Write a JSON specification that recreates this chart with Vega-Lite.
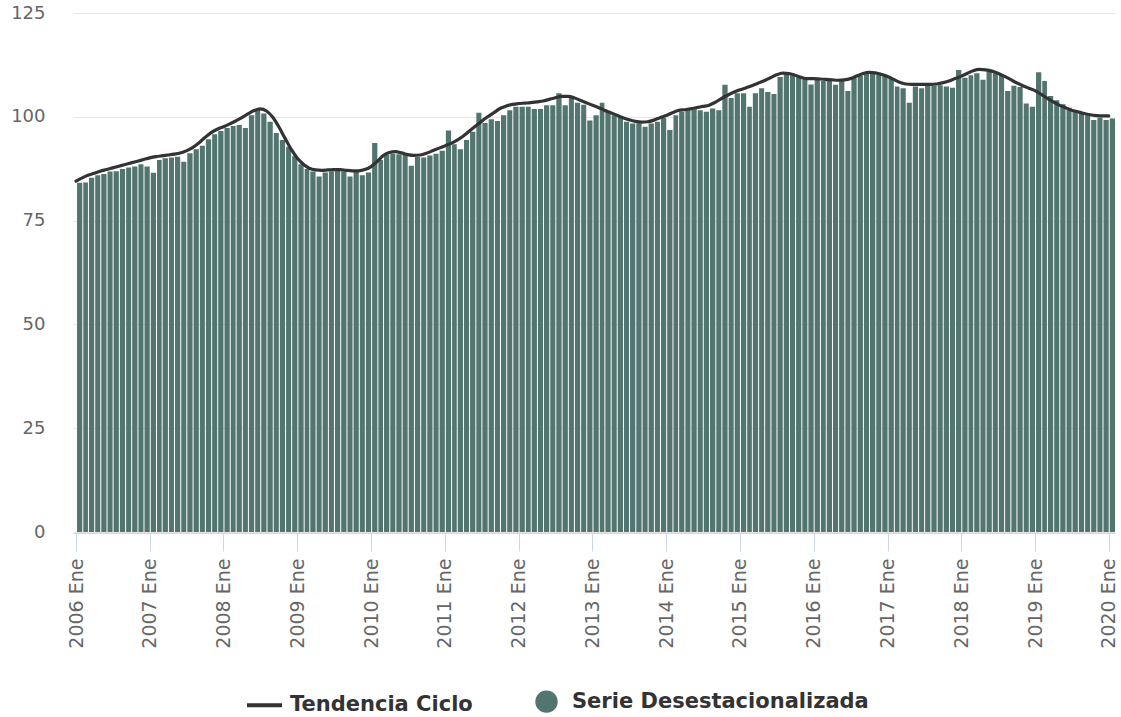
{
  "$schema": "https://vega.github.io/schema/vega-lite/v6.json",
  "width": 1042,
  "height": 519,
  "autosize": {"type": "none"},
  "padding": {"left": 73, "top": 13, "right": 6, "bottom": 185},
  "background": "white",
  "config": {"view": {"stroke": null}, "font": "DejaVu Sans"},
  "data": {"values": [
    {"fecha":"2006-01-15","serie":84.1,"tendencia":84.5},{"fecha":"2006-02-15","serie":84.2,"tendencia":85.3},{"fecha":"2006-03-15","serie":85.3,"tendencia":85.9},{"fecha":"2006-04-15","serie":85.9,"tendencia":86.4},{"fecha":"2006-05-15","serie":86.2,"tendencia":86.9},{"fecha":"2006-06-15","serie":86.8,"tendencia":87.3},{"fecha":"2006-07-15","serie":86.9,"tendencia":87.7},{"fecha":"2006-08-15","serie":87.4,"tendencia":88.1},{"fecha":"2006-09-15","serie":87.8,"tendencia":88.5},{"fecha":"2006-10-15","serie":88.0,"tendencia":88.9},{"fecha":"2006-11-15","serie":88.6,"tendencia":89.3},{"fecha":"2006-12-15","serie":88.0,"tendencia":89.7},
    {"fecha":"2007-01-15","serie":86.5,"tendencia":90.1},{"fecha":"2007-02-15","serie":89.6,"tendencia":90.4},{"fecha":"2007-03-15","serie":90.0,"tendencia":90.6},{"fecha":"2007-04-15","serie":90.2,"tendencia":90.8},{"fecha":"2007-05-15","serie":90.4,"tendencia":91.0},{"fecha":"2007-06-15","serie":89.2,"tendencia":91.3},{"fecha":"2007-07-15","serie":91.2,"tendencia":91.8},{"fecha":"2007-08-15","serie":92.2,"tendencia":92.6},{"fecha":"2007-09-15","serie":93.0,"tendencia":93.7},{"fecha":"2007-10-15","serie":94.6,"tendencia":95.0},{"fecha":"2007-11-15","serie":95.8,"tendencia":96.2},{"fecha":"2007-12-15","serie":96.6,"tendencia":97.0},
    {"fecha":"2008-01-15","serie":97.3,"tendencia":97.6},{"fecha":"2008-02-15","serie":97.8,"tendencia":98.3},{"fecha":"2008-03-15","serie":98.0,"tendencia":99.0},{"fecha":"2008-04-15","serie":97.3,"tendencia":99.8},{"fecha":"2008-05-15","serie":100.4,"tendencia":100.7},{"fecha":"2008-06-15","serie":101.8,"tendencia":101.5},{"fecha":"2008-07-15","serie":100.8,"tendencia":101.9},{"fecha":"2008-08-15","serie":98.8,"tendencia":101.4},{"fecha":"2008-09-15","serie":96.1,"tendencia":99.9},{"fecha":"2008-10-15","serie":94.4,"tendencia":97.6},{"fecha":"2008-11-15","serie":92.8,"tendencia":94.8},{"fecha":"2008-12-15","serie":90.5,"tendencia":92.2},
    {"fecha":"2009-01-15","serie":88.6,"tendencia":90.0},{"fecha":"2009-02-15","serie":87.4,"tendencia":88.5},{"fecha":"2009-03-15","serie":86.8,"tendencia":87.6},{"fecha":"2009-04-15","serie":85.6,"tendencia":87.2},{"fecha":"2009-05-15","serie":86.6,"tendencia":87.1},{"fecha":"2009-06-15","serie":86.9,"tendencia":87.2},{"fecha":"2009-07-15","serie":87.0,"tendencia":87.3},{"fecha":"2009-08-15","serie":86.9,"tendencia":87.3},{"fecha":"2009-09-15","serie":85.6,"tendencia":87.1},{"fecha":"2009-10-15","serie":86.7,"tendencia":87.0},{"fecha":"2009-11-15","serie":85.9,"tendencia":87.0},{"fecha":"2009-12-15","serie":86.6,"tendencia":87.3},
    {"fecha":"2010-01-15","serie":93.7,"tendencia":88.0},{"fecha":"2010-02-15","serie":89.6,"tendencia":89.3},{"fecha":"2010-03-15","serie":90.9,"tendencia":90.6},{"fecha":"2010-04-15","serie":91.1,"tendencia":91.4},{"fecha":"2010-05-15","serie":91.0,"tendencia":91.6},{"fecha":"2010-06-15","serie":90.8,"tendencia":91.3},{"fecha":"2010-07-15","serie":88.2,"tendencia":90.9},{"fecha":"2010-08-15","serie":90.3,"tendencia":90.7},{"fecha":"2010-09-15","serie":90.2,"tendencia":90.8},{"fecha":"2010-10-15","serie":90.7,"tendencia":91.2},{"fecha":"2010-11-15","serie":91.1,"tendencia":91.8},{"fecha":"2010-12-15","serie":91.8,"tendencia":92.4},
    {"fecha":"2011-01-15","serie":96.7,"tendencia":93.0},{"fecha":"2011-02-15","serie":93.4,"tendencia":93.6},{"fecha":"2011-03-15","serie":92.2,"tendencia":94.3},{"fecha":"2011-04-15","serie":94.4,"tendencia":95.3},{"fecha":"2011-05-15","serie":96.4,"tendencia":96.5},{"fecha":"2011-06-15","serie":101.0,"tendencia":97.7},{"fecha":"2011-07-15","serie":98.5,"tendencia":98.9},{"fecha":"2011-08-15","serie":99.4,"tendencia":100.0},{"fecha":"2011-09-15","serie":99.0,"tendencia":101.0},{"fecha":"2011-10-15","serie":100.4,"tendencia":102.0},{"fecha":"2011-11-15","serie":101.6,"tendencia":102.6},{"fecha":"2011-12-15","serie":102.4,"tendencia":103.0},
    {"fecha":"2012-01-15","serie":102.4,"tendencia":103.2},{"fecha":"2012-02-15","serie":102.4,"tendencia":103.3},{"fecha":"2012-03-15","serie":101.9,"tendencia":103.4},{"fecha":"2012-04-15","serie":101.9,"tendencia":103.6},{"fecha":"2012-05-15","serie":102.8,"tendencia":103.8},{"fecha":"2012-06-15","serie":102.8,"tendencia":104.2},{"fecha":"2012-07-15","serie":105.7,"tendencia":104.6},{"fecha":"2012-08-15","serie":102.8,"tendencia":104.9},{"fecha":"2012-09-15","serie":105.0,"tendencia":104.9},{"fecha":"2012-10-15","serie":103.4,"tendencia":104.6},{"fecha":"2012-11-15","serie":102.9,"tendencia":104.0},{"fecha":"2012-12-15","serie":99.1,"tendencia":103.4},
    {"fecha":"2013-01-15","serie":100.4,"tendencia":102.8},{"fecha":"2013-02-15","serie":103.4,"tendencia":102.2},{"fecha":"2013-03-15","serie":101.2,"tendencia":101.6},{"fecha":"2013-04-15","serie":100.4,"tendencia":101.0},{"fecha":"2013-05-15","serie":100.0,"tendencia":100.4},{"fecha":"2013-06-15","serie":98.8,"tendencia":99.8},{"fecha":"2013-07-15","serie":98.4,"tendencia":99.3},{"fecha":"2013-08-15","serie":98.4,"tendencia":98.9},{"fecha":"2013-09-15","serie":97.6,"tendencia":98.7},{"fecha":"2013-10-15","serie":98.4,"tendencia":98.8},{"fecha":"2013-11-15","serie":98.8,"tendencia":99.2},{"fecha":"2013-12-15","serie":99.7,"tendencia":99.8},
    {"fecha":"2014-01-15","serie":96.8,"tendencia":100.3},{"fecha":"2014-02-15","serie":100.4,"tendencia":101.0},{"fecha":"2014-03-15","serie":101.2,"tendencia":101.5},{"fecha":"2014-04-15","serie":101.6,"tendencia":101.7},{"fecha":"2014-05-15","serie":101.8,"tendencia":101.9},{"fecha":"2014-06-15","serie":101.6,"tendencia":102.2},{"fecha":"2014-07-15","serie":101.2,"tendencia":102.5},{"fecha":"2014-08-15","serie":102.0,"tendencia":102.8},{"fecha":"2014-09-15","serie":101.6,"tendencia":103.5},{"fecha":"2014-10-15","serie":107.7,"tendencia":104.4},{"fecha":"2014-11-15","serie":104.5,"tendencia":105.2},{"fecha":"2014-12-15","serie":105.7,"tendencia":105.9},
    {"fecha":"2015-01-15","serie":105.7,"tendencia":106.5},{"fecha":"2015-02-15","serie":102.4,"tendencia":107.0},{"fecha":"2015-03-15","serie":105.7,"tendencia":107.5},{"fecha":"2015-04-15","serie":106.9,"tendencia":108.1},{"fecha":"2015-05-15","serie":106.0,"tendencia":108.7},{"fecha":"2015-06-15","serie":105.5,"tendencia":109.4},{"fecha":"2015-07-15","serie":109.6,"tendencia":110.1},{"fecha":"2015-08-15","serie":110.2,"tendencia":110.5},{"fecha":"2015-09-15","serie":110.0,"tendencia":110.4},{"fecha":"2015-10-15","serie":109.5,"tendencia":110.0},{"fecha":"2015-11-15","serie":109.2,"tendencia":109.5},{"fecha":"2015-12-15","serie":107.8,"tendencia":109.2},
    {"fecha":"2016-01-15","serie":108.9,"tendencia":109.2},{"fecha":"2016-02-15","serie":108.6,"tendencia":109.1},{"fecha":"2016-03-15","serie":109.0,"tendencia":109.0},{"fecha":"2016-04-15","serie":107.7,"tendencia":108.9},{"fecha":"2016-05-15","serie":108.6,"tendencia":108.8},{"fecha":"2016-06-15","serie":106.2,"tendencia":108.9},{"fecha":"2016-07-15","serie":109.5,"tendencia":109.2},{"fecha":"2016-08-15","serie":109.8,"tendencia":109.8},{"fecha":"2016-09-15","serie":110.4,"tendencia":110.4},{"fecha":"2016-10-15","serie":110.7,"tendencia":110.7},{"fecha":"2016-11-15","serie":110.6,"tendencia":110.6},{"fecha":"2016-12-15","serie":110.0,"tendencia":110.2},
    {"fecha":"2017-01-15","serie":109.3,"tendencia":109.7},{"fecha":"2017-02-15","serie":107.3,"tendencia":109.0},{"fecha":"2017-03-15","serie":106.9,"tendencia":108.3},{"fecha":"2017-04-15","serie":103.4,"tendencia":107.9},{"fecha":"2017-05-15","serie":107.3,"tendencia":107.8},{"fecha":"2017-06-15","serie":106.9,"tendencia":107.8},{"fecha":"2017-07-15","serie":107.4,"tendencia":107.8},{"fecha":"2017-08-15","serie":107.5,"tendencia":107.8},{"fecha":"2017-09-15","serie":107.6,"tendencia":107.9},{"fecha":"2017-10-15","serie":107.3,"tendencia":108.2},{"fecha":"2017-11-15","serie":107.0,"tendencia":108.6},{"fecha":"2017-12-15","serie":111.3,"tendencia":109.2},
    {"fecha":"2018-01-15","serie":109.4,"tendencia":109.8},{"fecha":"2018-02-15","serie":110.0,"tendencia":110.5},{"fecha":"2018-03-15","serie":110.5,"tendencia":111.1},{"fecha":"2018-04-15","serie":108.9,"tendencia":111.4},{"fecha":"2018-05-15","serie":110.9,"tendencia":111.3},{"fecha":"2018-06-15","serie":110.5,"tendencia":111.0},{"fecha":"2018-07-15","serie":110.0,"tendencia":110.5},{"fecha":"2018-08-15","serie":106.2,"tendencia":109.8},{"fecha":"2018-09-15","serie":107.5,"tendencia":109.0},{"fecha":"2018-10-15","serie":107.2,"tendencia":108.2},{"fecha":"2018-11-15","serie":103.2,"tendencia":107.5},{"fecha":"2018-12-15","serie":102.4,"tendencia":106.9},
    {"fecha":"2019-01-15","serie":110.7,"tendencia":106.3},{"fecha":"2019-02-15","serie":108.6,"tendencia":105.4},{"fecha":"2019-03-15","serie":105.0,"tendencia":104.5},{"fecha":"2019-04-15","serie":104.0,"tendencia":103.6},{"fecha":"2019-05-15","serie":103.0,"tendencia":102.8},{"fecha":"2019-06-15","serie":102.2,"tendencia":102.2},{"fecha":"2019-07-15","serie":101.5,"tendencia":101.6},{"fecha":"2019-08-15","serie":101.0,"tendencia":101.2},{"fecha":"2019-09-15","serie":100.4,"tendencia":100.8},{"fecha":"2019-10-15","serie":99.2,"tendencia":100.5},{"fecha":"2019-11-15","serie":99.8,"tendencia":100.3},{"fecha":"2019-12-15","serie":99.2,"tendencia":100.2},
    {"fecha":"2020-01-15","serie":99.6,"tendencia":100.2}
  ]},
  "layer": [
    {
      "mark": {"type": "bar", "timeUnitBandSize": 0.55},
      "encoding": {
        "x": {
          "field": "fecha", "type": "temporal", "timeUnit": "yearmonth",
          "scale": {"domain": [1134777600000, 1580515200000], "nice": false},
          "axis": {
            "title": null, "format": "%Y Ene", "tickCount": {"interval": "year", "step": 1},
            "labelAngle": 270, "labelFontSize": 19, "labelColor": "#666666", "labelFont": "DejaVu Sans",
            "labelPadding": 7, "tickSize": 18, "tickColor": "#ccd6eb", "domainColor": "#ccd6eb",
            "offset": 1, "grid": false, "labelOverlap": false, "labelFlush": false
          }
        },
        "y": {
          "field": "serie", "type": "quantitative",
          "scale": {"domain": [0, 125], "nice": false},
          "axis": {
            "title": null, "values": [0, 25, 50, 75, 100, 125], "grid": true, "gridColor": "#e6e6e6",
            "domain": false, "ticks": false, "labelFontSize": 18, "labelColor": "#666666",
            "labelFont": "DejaVu Sans", "labelPadding": 28
          }
        },
        "color": {
          "datum": "Serie Desestacionalizada", "type": "nominal",
          "scale": {"domain": ["Tendencia Ciclo", "Serie Desestacionalizada"], "range": ["#333333", "#527570"]},
          "legend": {
            "title": null, "orient": "none", "direction": "horizontal", "legendX": 180, "legendY": 677,
            "labelFont": "DejaVu Sans", "labelFontSize": 21, "labelFontWeight": "bold", "labelColor": "#333333",
            "labelLimit": 0, "symbolSize": 1225, "labelOffset": 14, "columnPadding": 56, "padding": 0,
            "encode": {
              "symbols": {
                "update": {
                  "shape": {"signal": "datum.label === 'Tendencia Ciclo' ? 'stroke' : 'circle'"},
                  "size": {"signal": "datum.label === 'Tendencia Ciclo' ? 1225 : 340"},
                  "fill": {"signal": "datum.label === 'Tendencia Ciclo' ? 'transparent' : '#3f6660'"},
                  "stroke": {"signal": "datum.label === 'Tendencia Ciclo' ? '#333333' : 'transparent'"},
                  "strokeWidth": {"value": 4},
                  "opacity": {"value": 1}
                }
              }
            }
          }
        }
      }
    },
    {
      "mark": {"type": "line", "interpolate": "monotone", "strokeWidth": 3.2, "strokeCap": "round"},
      "encoding": {
        "x": {"field": "fecha", "type": "temporal", "timeUnit": "yearmonth", "bandPosition": 0},
        "y": {"field": "tendencia", "type": "quantitative"},
        "color": {"datum": "Tendencia Ciclo", "type": "nominal"}
      }
    }
  ]
}
